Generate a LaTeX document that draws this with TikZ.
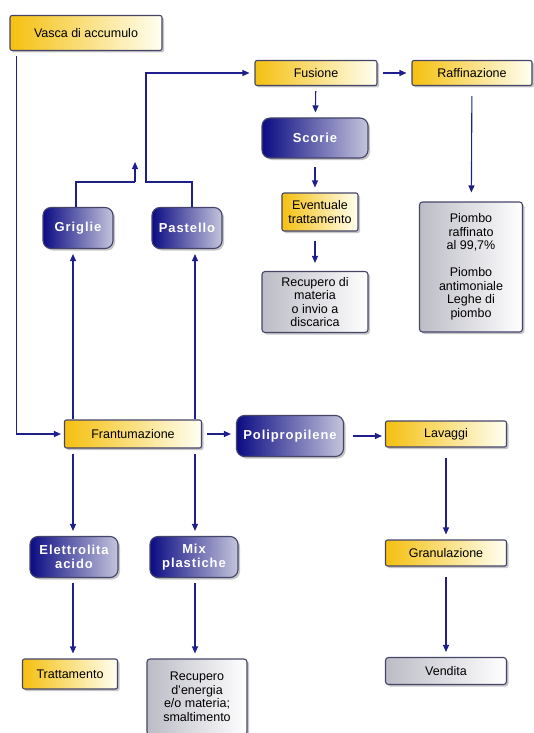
\documentclass[tikz,border=0pt]{standalone}
\usepackage{fontspec}
\setmainfont{Liberation Sans}
\newfontfamily\spacedfont[LetterSpace=7]{Liberation Sans}
\usetikzlibrary{arrows.meta,shadows}
\definecolor{flowblue}{HTML}{1E1E8C}
\definecolor{boxedge}{HTML}{45456A}
\definecolor{boxgold}{HTML}{F5C010}
\definecolor{boxnavy}{HTML}{0C0C84}
\definecolor{boxlilac}{HTML}{C4C4DC}
\definecolor{boxgrey}{HTML}{BCBCC6}
\begin{document}
\begin{tikzpicture}[x=1pt,y=-1pt,
  every node/.style={font=\fontsize{12.5}{13.5}\selectfont, inner sep=2pt, align=center},
  boxshadow/.style={drop shadow={shadow xshift=2pt, shadow yshift=-2pt, fill=black!50, opacity=0.45}},
  yellowbox/.style={draw=boxedge, line width=1.1pt, rounded corners=2pt, left color=boxgold, right color=white!95!yellow, boxshadow},
  navybox/.style={draw=boxedge, line width=1.1pt, rounded corners=8pt, left color=boxnavy, right color=boxlilac, text=white, font=\fontsize{13}{13.5}\selectfont\spacedfont\bfseries, boxshadow},
  greybox/.style={draw=boxedge, line width=1.1pt, rounded corners=3pt, left color=boxgrey, right color=white, boxshadow},
  arr/.style={draw=flowblue, line width=1.1pt, -{Triangle[length=7pt,width=6pt]}, shorten <=5pt, shorten >=5pt},
  link/.style={draw=flowblue, line width=1.1pt}]
\useasboundingbox (0,0) rectangle (533,733);
% Top row
\node[yellowbox, minimum width=152pt, minimum height=35pt] (vasca) at (86,33) {Vasca di accumulo};
\node[yellowbox, minimum width=122pt, minimum height=25pt] (fusione) at (316,73) {Fusione};
\node[yellowbox, minimum width=120pt, minimum height=25pt] (raffinazione) at (472,73) {Raffinazione};
% Lead branch
\node[navybox, minimum width=106pt, minimum height=40pt] (scorie) at (315,138) {Scorie};
\node[yellowbox, minimum width=76pt, minimum height=38pt] (eventuale) at (320,212) {Eventuale\\trattamento};
\node[greybox, minimum width=106pt, minimum height=61pt] (recmateria) at (315,302) {Recupero di\\materia\\o invio a\\discarica};
\node[greybox, minimum width=103pt, minimum height=130pt] (piombo) at (471,267) {Piombo\\raffinato\\al 99,7\%\\[13.5pt]Piombo\\antimoniale\\Leghe di\\piombo};
\node[navybox, minimum width=70pt, minimum height=41pt] (griglie) at (78,228) {Griglie};
\node[navybox, minimum width=70pt, minimum height=41pt] (pastello) at (187,228) {Pastello};
% Middle row
\node[yellowbox, minimum width=137pt, minimum height=28pt] (frantumazione) at (133,434) {Frantumazione};
\node[navybox, minimum width=107pt, minimum height=41pt] (polipropilene) at (290,436) {Polipropilene};
\node[yellowbox, minimum width=121pt, minimum height=26pt] (lavaggi) at (446,434) {Lavaggi};
\node[yellowbox, minimum width=121pt, minimum height=26pt] (granulazione) at (446,553) {Granulazione};
\node[greybox, minimum width=121pt, minimum height=27pt] (vendita) at (446,671) {Vendita};
% Bottom left
\node[navybox, minimum width=88pt, minimum height=41pt] (elettrolita) at (74,557) {Elettrolita\\acido};
\node[navybox, minimum width=88pt, minimum height=41pt] (mix) at (194,557) {Mix\\plastiche};
\node[yellowbox, minimum width=95pt, minimum height=30pt] (trattamento) at (70,674) {Trattamento};
\node[greybox, minimum width=100pt, minimum height=76pt] (recenergia) at (197,697) {Recupero\\d'energia\\e/o materia;\\smaltimento};
% Columns and bends
\coordinate (colA) at (73,0);
\coordinate (colB) at (195,0);
\coordinate (joinG) at (135,182);
\coordinate (tipG) at (135,162);
\coordinate (bendP) at (146,182);
% Connectors
\draw[arr, shorten >=3pt] ([xshift=7pt]vasca.south west) |- (frantumazione.west);
\draw[link] ([xshift=-2pt]griglie.north) |- (joinG);
\draw[arr, shorten <=0pt, shorten >=0pt] (joinG) -- (tipG);
\draw[arr, shorten <=0pt] ([xshift=5pt]pastello.north) |- (bendP) |- (fusione.west);
\draw[arr] (fusione) -- (raffinazione);
\draw[arr] (fusione) -- (scorie);
\draw[arr, shorten <=8pt] (scorie.south) -- (scorie.south |- eventuale.north);
\draw[arr, shorten <=9pt, shorten >=8pt] (eventuale.south -| scorie.south) -- (recmateria.north);
\draw[arr, shorten <=10pt, shorten >=9pt] (raffinazione) -- (piombo);
\draw[arr, shorten <=0pt] (frantumazione.north -| colA) -- (griglie.south -| colA);
\draw[arr, shorten <=0pt] (frantumazione.north -| colB) -- (pastello.south -| colB);
\draw[arr] (frantumazione) -- (frantumazione -| polipropilene.west);
\draw[arr, shorten <=9pt, shorten >=3pt] (polipropilene) -- (polipropilene -| lavaggi.west);
\draw[arr, shorten <=10pt] (lavaggi) -- (granulazione);
\draw[arr, shorten <=10pt] (granulazione) -- (vendita);
\draw[arr] (frantumazione.south -| colA) -- (elettrolita.north -| colA);
\draw[arr] (frantumazione.south -| colB) -- (mix.north -| colB);
\draw[arr] (elettrolita.south -| colA) -- (trattamento.north -| colA);
\draw[arr] (mix.south -| colB) -- (recenergia.north -| colB);
\end{tikzpicture}
\end{document}
